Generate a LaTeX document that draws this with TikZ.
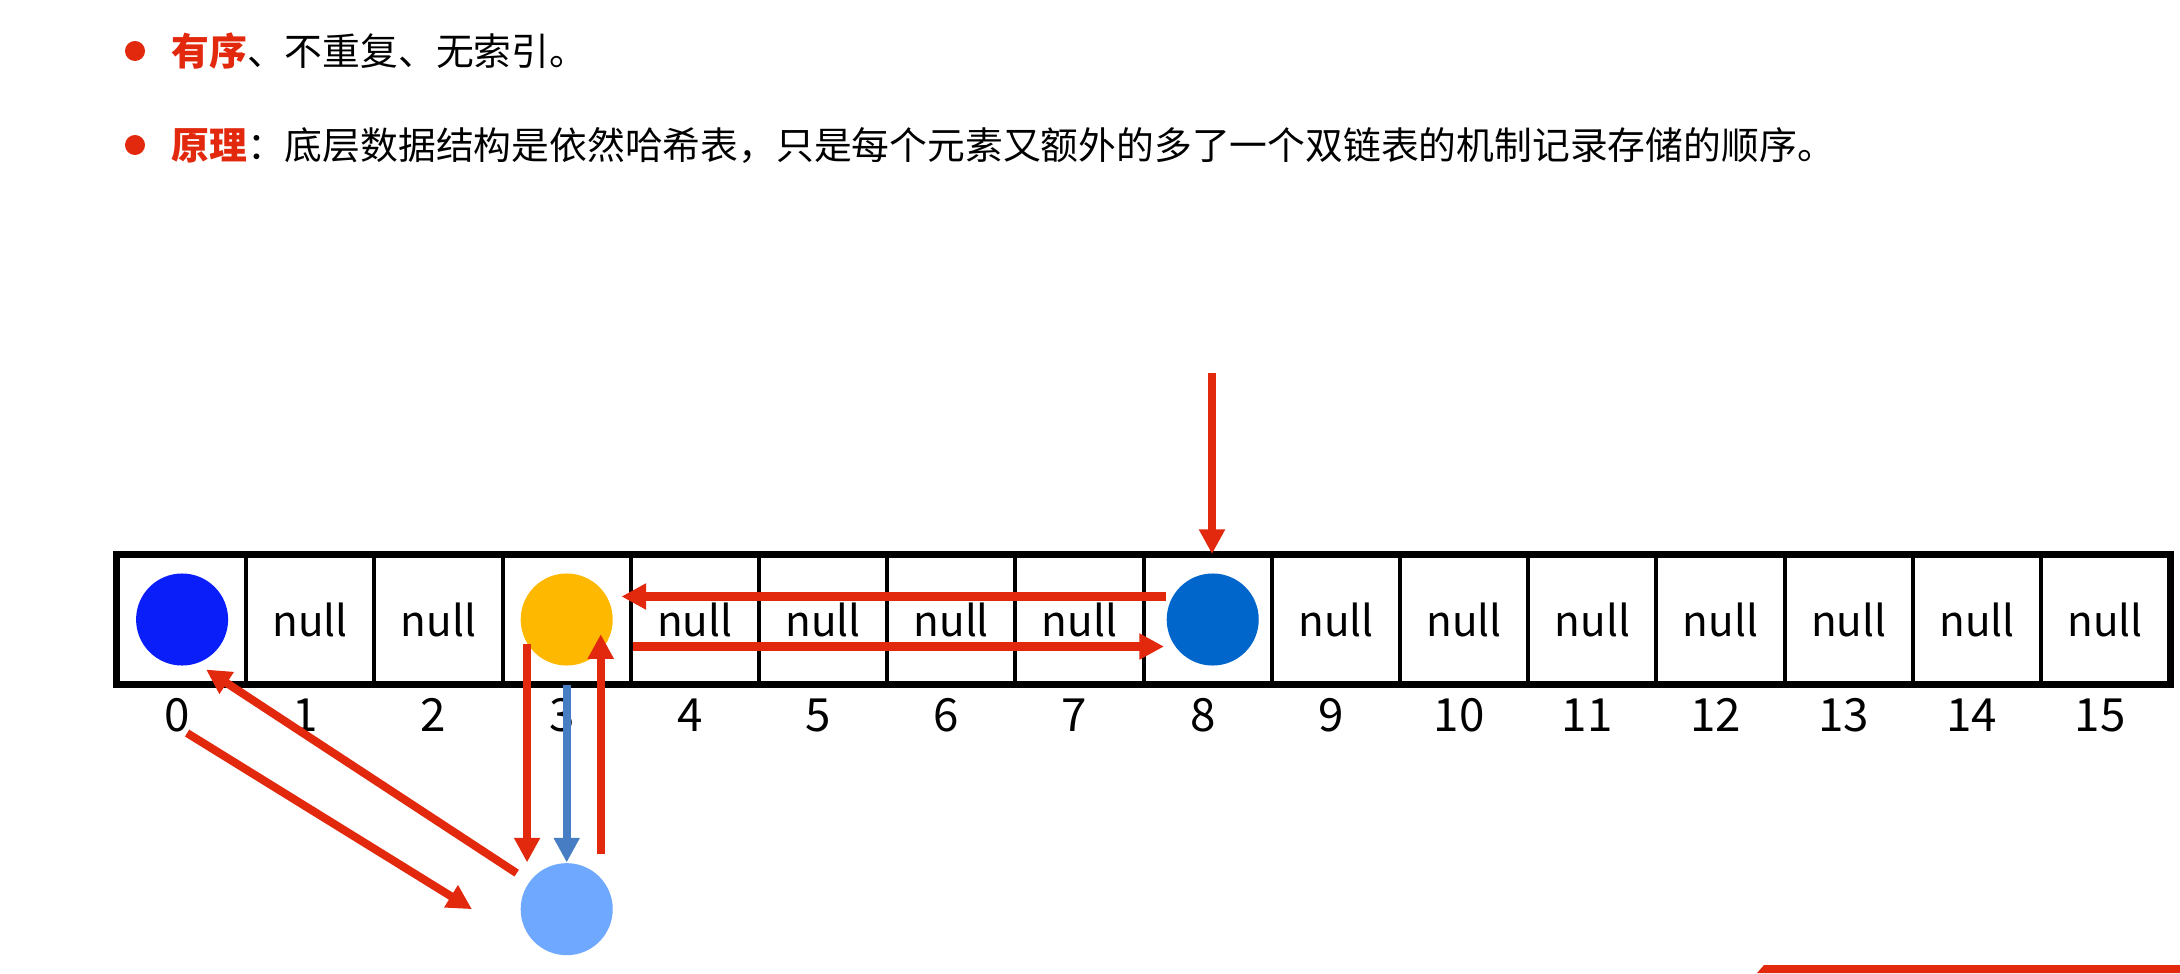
\documentclass[tikz,border=0pt]{standalone}
\usepackage{fontspec}
\setmainfont{Noto Sans CJK SC}
\usetikzlibrary{arrows.meta, positioning, calc}
\definecolor{hotred}{RGB}{226, 41, 14}
\definecolor{ballblue}{RGB}{10, 30, 250}
\definecolor{ballgold}{RGB}{255, 184, 0}
\definecolor{ballsea}{RGB}{0, 102, 204}
\definecolor{ballsky}{RGB}{110, 168, 255}
\definecolor{steel}{RGB}{70, 125, 195}

\begin{document}
\begin{tikzpicture}[x=0.01cm, y=-0.01cm,
  slot/.style={draw, line width=1.1pt, minimum width=1.282cm,
               minimum height=1.27cm, inner sep=0pt},
  nul/.style={font=\fontsize{12pt}{14pt}\selectfont, inner sep=0pt},
  idx/.style={font=\fontsize{13pt}{16pt}\selectfont, inner sep=0pt},
  ball/.style={circle, minimum size=0.92cm, inner sep=0pt},
  link/.style={draw=hotred, line width=2.3pt,
               -{Triangle[length=7pt, width=7pt]}},
  bullet/.style={circle, fill=hotred, minimum size=0.2cm, inner sep=0pt},
  point/.style={font=\fontsize{10.75pt}{13pt}\selectfont, inner sep=0pt}
]
  \useasboundingbox (0,0) rectangle (2180,973);

  % the two bullet lines
  \node[bullet] (dot1) at (135, 51) {};
  \node[point, right=0.25cm of dot1] (rule1)
    {\textcolor{hotred}{\bfseries 有序}、不重复、无索引。};
  \node[bullet] (dot2) at (135, 145) {};
  \node[point, right=0.25cm of dot2] (rule2)
    {\textcolor{hotred}{\bfseries 原理}：底层数据结构是依然哈希表，只是每个元素又额外的多了一个双链表的机制记录存储的顺序。};

  % hash table slots
  \foreach \i in {0,...,15}{
    \node[slot] (c\i) at ({182.1+128.2*\i}, 619.5) {};
    \node[idx] (i\i) at ([xshift=-0.05cm, yshift=-0.955cm]c\i.center) {\i};
  }
  \draw[line width=1.6pt] (c0.north west) rectangle (c15.south east);
  \foreach \i in {1,2,4,5,6,7,9,10,11,12,13,14,15}
    \node[nul] (n\i) at (c\i) {null};

  % elements
  \node[ball, fill=ballblue] (blue0) at (c0) {};
  \node[ball, fill=ballgold] (gold3) at (c3) {};
  \node[ball, fill=ballsea] (sea8) at ([xshift=0.05cm]c8.center) {};
  \node[ball, fill=ballsky] (sky3) at ([yshift=-2.895cm]c3.center) {};

  % links
  \coordinate (entry) at (1212, 373);
  \draw[link] (entry) -- (entry |- c8.north);
  \draw[link] ([yshift=0.23cm]sea8.west) -- ([xshift=0.08cm, yshift=0.23cm]gold3.east);
  \draw[link] ([xshift=0.2cm, yshift=-0.27cm]gold3.east) -- ([xshift=-0.02cm, yshift=-0.27cm]sea8.west);
  \draw[link] (gold3.212) -- (gold3.212 |- sky3.north);
  \draw[link, draw=steel] (c3.south) -- (sky3.north);
  \draw[link] ([xshift=0.34cm, yshift=0.08cm]sky3.north) -- ([xshift=0.34cm, yshift=0.32cm]gold3.south);
  \draw[link] ([xshift=-0.5cm, yshift=0.36cm]sky3.center) -- ([xshift=0.24cm, yshift=-0.5cm]blue0.center);
  \draw[link] ([xshift=0.1cm, yshift=-0.18cm]i0.center) -- ([xshift=-0.48cm]sky3.west);

  \fill[hotred] (1757, 973) -- (1764, 965) -- (2180, 965) -- (2180, 973) -- cycle;
\end{tikzpicture}
\end{document}
